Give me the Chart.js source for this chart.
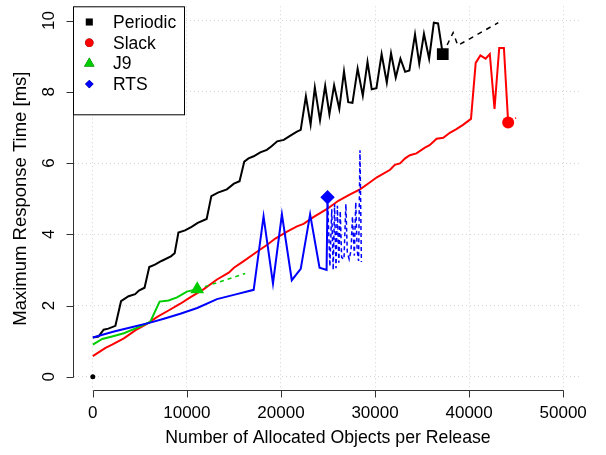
<!DOCTYPE html>
<html>
<head>
<meta charset="utf-8">
<script src="https://cdn.jsdelivr.net/npm/chart.js@4.4.0/dist/chart.umd.min.js"></script>
<style>
  html, body { margin: 0; padding: 0; background: #fff; overflow: hidden; }
  #chart { display: block; margin-top: -2px; }
</style>
</head>
<body>
<canvas id="chart" width="606" height="457"></canvas>
<script>
// axis ticks
var xTicks = [0, 10000, 20000, 30000, 40000, 50000];
var yTicks = [0, 2, 4, 6, 8, 10];
var seriesNames = ["Periodic", "Slack", "J9", "RTS"];

// Periodic
var periodicX = [0, 600, 1150, 1650, 2400, 3000, 3800, 4500, 4900, 5500, 6000, 6600, 7300, 8300, 8700,
  9100, 9800, 10500, 11150, 12100, 12600, 13300, 14250, 15000, 15600, 16100, 16550, 17100, 17800,
  18500, 19000, 19600, 20300, 21000, 21700, 22100, 22650, 23150, 23600, 24150, 24700, 25150, 25650,
  26200, 26700, 27150, 27600, 28150, 28700, 29200, 29650, 30150, 30700, 31250, 31700, 32200, 32700,
  33200, 33650, 34250, 34700, 35200, 35750, 36250, 36700, 37200];
var periodicY = [1.10, 1.13, 1.32, 1.35, 1.43, 2.12, 2.26, 2.32, 2.42, 2.50, 3.08, 3.15, 3.25, 3.38, 3.47,
  4.05, 4.11, 4.21, 4.32, 4.43, 5.07, 5.17, 5.26, 5.42, 5.49, 6.04, 6.13, 6.19, 6.30,
  6.37, 6.47, 6.61, 6.65, 6.77, 6.88, 6.93, 7.87, 7.08, 8.12, 7.20, 8.17, 7.37, 8.18,
  7.52, 8.57, 7.71, 7.69, 8.65, 7.89, 8.84, 8.07, 8.10, 9.06, 8.26, 9.08, 8.40, 8.93,
  8.56, 8.60, 9.61, 8.79, 9.63, 8.93, 9.94, 9.92, 9.06];
var periodicTailX = [37200, 38300, 38800, 43100];
var periodicTailY = [9.06, 9.66, 9.30, 9.94];

// Slack
var slackX = [0, 1350, 2050, 3300, 4550, 5800, 6850, 8050, 9300, 10350, 11800, 13200, 14450, 15000,
  16000, 17450, 18500, 19400, 20600, 21700, 22400, 23450, 24900, 26100, 27350, 28400, 29100, 30200,
  31600, 32100, 32650, 33200, 33700, 34400, 35300, 35800, 36550, 37250, 37950, 38650, 39350, 40200,
  40700, 41200, 41750, 42200, 42700, 43200, 43700, 44150];
var slackY = [0.58, 0.81, 0.90, 1.08, 1.31, 1.49, 1.68, 1.86, 2.05, 2.23, 2.46, 2.73, 2.92, 3.06,
  3.24, 3.51, 3.70, 3.88, 4.07, 4.22, 4.29, 4.48, 4.71, 4.94, 5.12, 5.26, 5.39, 5.60,
  5.81, 5.95, 5.99, 6.13, 6.22, 6.27, 6.43, 6.50, 6.68, 6.71, 6.85, 6.95, 7.07, 7.24,
  8.81, 9.02, 8.93, 9.06, 7.52, 9.23, 9.23, 7.14];
var slackTailX = [44150, 45000];
var slackTailY = [7.14, 7.27];

// J9
var j9X = [0, 1000, 2050, 3300, 4550, 6100, 7100, 8050, 8950, 10000, 11100];
var j9Y = [0.90, 1.06, 1.13, 1.22, 1.36, 1.54, 2.11, 2.14, 2.23, 2.39, 2.46];
var j9TailX = [11100, 16200];
var j9TailY = [2.46, 2.90];

// RTS
var rtsX = [0, 2250, 4000, 6100, 7550, 9300, 11100, 13200, 15300, 17100, 18150, 19150, 20100, 21150,
  22100, 23100, 24100, 24850, 24950];
var rtsY = [1.10, 1.27, 1.38, 1.52, 1.63, 1.77, 1.93, 2.18, 2.32, 2.44, 4.50, 2.62, 4.56, 2.71,
  3.03, 4.56, 3.06, 3.00, 5.04];
var rtsTailX = [24950, 25200, 25400, 25550, 25700, 25850, 26000, 26150, 26300, 26450, 26700, 26900,
  27050, 27250, 27450, 27600, 27800, 27950, 28100, 28250, 28400, 28550];
var rtsTailY = [5.04, 3.10, 4.70, 3.00, 4.85, 3.05, 4.80, 3.20, 4.65, 3.35, 3.30, 4.85,
  3.50, 3.30, 3.55, 4.50, 3.40, 4.90, 3.55, 3.25, 6.36, 3.22];

// lone point at the origin
var originX = [0];
var originY = [0];

var FONT = '"Liberation Sans", Arial, Helvetica, sans-serif';

function pts(xs, ys) {
  return xs.map(function (x, i) { return { x: x, y: ys[i] }; });
}

// marker only on the last point of a series
function lastOnly(r) {
  return function (c) { return c.dataIndex === c.dataset.data.length - 1 ? r : 0; };
}

function solid(label, xs, ys, color, style, r) {
  return {
    label: label, data: pts(xs, ys), borderColor: color, backgroundColor: color,
    borderWidth: 2, pointStyle: style, pointRadius: lastOnly(r), pointBorderWidth: 0
  };
}
function dashed(xs, ys, color, dash) {
  return {
    data: pts(xs, ys), borderColor: color, borderWidth: 1.5, borderDash: dash, pointRadius: 0
  };
}

var legendColors = ["#000000", "#ff0000", "#00cd00", "#0000ff"];
var legendStyles = ["rect", "circle", "triangle", "rectRot"];

// R-style detached axes
var rAxes = {
  id: "rAxes",
  afterDraw: function (chart) {
    var ctx = chart.ctx, xs = chart.scales.x, ys = chart.scales.y, a = chart.chartArea;
    ctx.save();
    ctx.strokeStyle = "#333";
    ctx.lineWidth = 1;
    ctx.beginPath();
    var yb = Math.round(a.bottom) - 0.5;
    ctx.moveTo(Math.round(xs.getPixelForValue(xTicks[0])) + 0.5, yb);
    ctx.lineTo(Math.round(xs.getPixelForValue(xTicks[xTicks.length - 1])) + 0.5, yb);
    xTicks.forEach(function (v) {
      var p = Math.round(xs.getPixelForValue(v)) + 0.5;
      ctx.moveTo(p, yb);
      ctx.lineTo(p, yb + 7);
    });
    var xl = Math.round(a.left) - 0.5;
    ctx.moveTo(xl, Math.round(ys.getPixelForValue(yTicks[0])) + 0.5);
    ctx.lineTo(xl, Math.round(ys.getPixelForValue(yTicks[yTicks.length - 1])) + 0.5);
    yTicks.forEach(function (v) {
      var p = Math.round(ys.getPixelForValue(v)) + 0.5;
      ctx.moveTo(xl, p);
      ctx.lineTo(xl - 7, p);
    });
    ctx.stroke();

    // rotated y tick labels
    ctx.fillStyle = "#000";
    ctx.font = "17px " + FONT;
    ctx.textAlign = "center";
    ctx.textBaseline = "middle";
    yTicks.forEach(function (v) {
      ctx.save();
      ctx.translate(49.5, ys.getPixelForValue(v));
      ctx.rotate(-Math.PI / 2);
      ctx.fillText(String(v), 0, 0);
      ctx.restore();
    });

    // legend box, top left
    var bx = xl, by = a.top + 0.5, bw = 111, bh = 108;
    ctx.fillStyle = "#fff";
    ctx.fillRect(bx, by, bw, bh);
    ctx.strokeStyle = "#000";
    ctx.strokeRect(bx, by, bw, bh);
    ctx.font = "17.5px " + FONT;
    seriesNames.forEach(function (name, i) {
      var cy = 24 + i * 20.7;
      Chart.helpers.drawPoint(ctx, {
        pointStyle: legendStyles[i], radius: i === 0 ? 5 : (i === 2 ? 6 : 4.2),
        borderWidth: 0, rotation: 0
      }, 89.3, cy);
      ctx.fillStyle = legendColors[i];
      ctx.fill();
      ctx.fillStyle = "#000";
      ctx.textAlign = "left";
      ctx.fillText(name, 113, cy + 1);
    });
    ctx.restore();
  }
};

var ctx = document.getElementById("chart").getContext("2d");
var chart = new Chart(ctx, {
  type: "line",
  data: {
    datasets: [
      {
        data: pts(originX, originY), showLine: false, pointRadius: 2.5,
        pointBackgroundColor: "#000", pointBorderWidth: 0
      },
      solid(seriesNames[3], rtsX, rtsY, legendColors[3], "rectRot", 7.2),
      dashed(rtsTailX, rtsTailY, legendColors[3], [4, 3]),
      solid(seriesNames[2], j9X, j9Y, legendColors[2], "triangle", 8),
      dashed(j9TailX, j9TailY, legendColors[2], [4, 4]),
      solid(seriesNames[1], slackX, slackY, legendColors[1], "circle", 6),
      dashed(slackTailX, slackTailY, legendColors[1], [4, 4]),
      solid(seriesNames[0], periodicX, periodicY, legendColors[0], "rect", 8.3),
      dashed(periodicTailX, periodicTailY, legendColors[0], [5, 5])
    ]
  },
  options: {
    responsive: false,
    animation: false,
    events: [],
    layout: { padding: { left: 0, right: 24, top: 0, bottom: 0 } },
    elements: { line: { tension: 0 } },
    plugins: { legend: { display: false }, tooltip: { enabled: false } },
    scales: {
      x: {
        type: "linear",
        min: -2000,
        max: 52000,
        afterBuildTicks: function (s) { s.ticks = xTicks.map(function (v) { return { value: v }; }); },
        afterFit: function (s) { s.height = 64; },
        grid: { color: "#d4d4d4", lineWidth: 1, drawTicks: false },
        border: { display: false, dash: [1, 3] },
        ticks: {
          color: "#000", font: { family: FONT, size: 17 }, padding: 12,
          maxRotation: 0, autoSkip: false,
          callback: function (v) { return String(v); }
        },
        title: {
          display: true, text: "Number of Allocated Objects per Release", color: "#000",
          font: { family: FONT, size: 17.7 }, padding: { top: 0, bottom: 6 }
        }
      },
      y: {
        min: -0.4,
        max: 10.4,
        afterBuildTicks: function (s) { s.ticks = yTicks.map(function (v) { return { value: v }; }); },
        afterFit: function (s) { s.width = 74; },
        grid: { color: "#d4d4d4", lineWidth: 1, drawTicks: false },
        border: { display: false, dash: [1, 3] },
        ticks: { display: false },
        title: {
          display: true, text: "Maximum Response Time [ms]", color: "#000",
          font: { family: FONT, size: 18.5 }, padding: { top: 10, bottom: 0 }
        }
      }
    }
  },
  plugins: [rAxes]
});
</script>
</body>
</html>
